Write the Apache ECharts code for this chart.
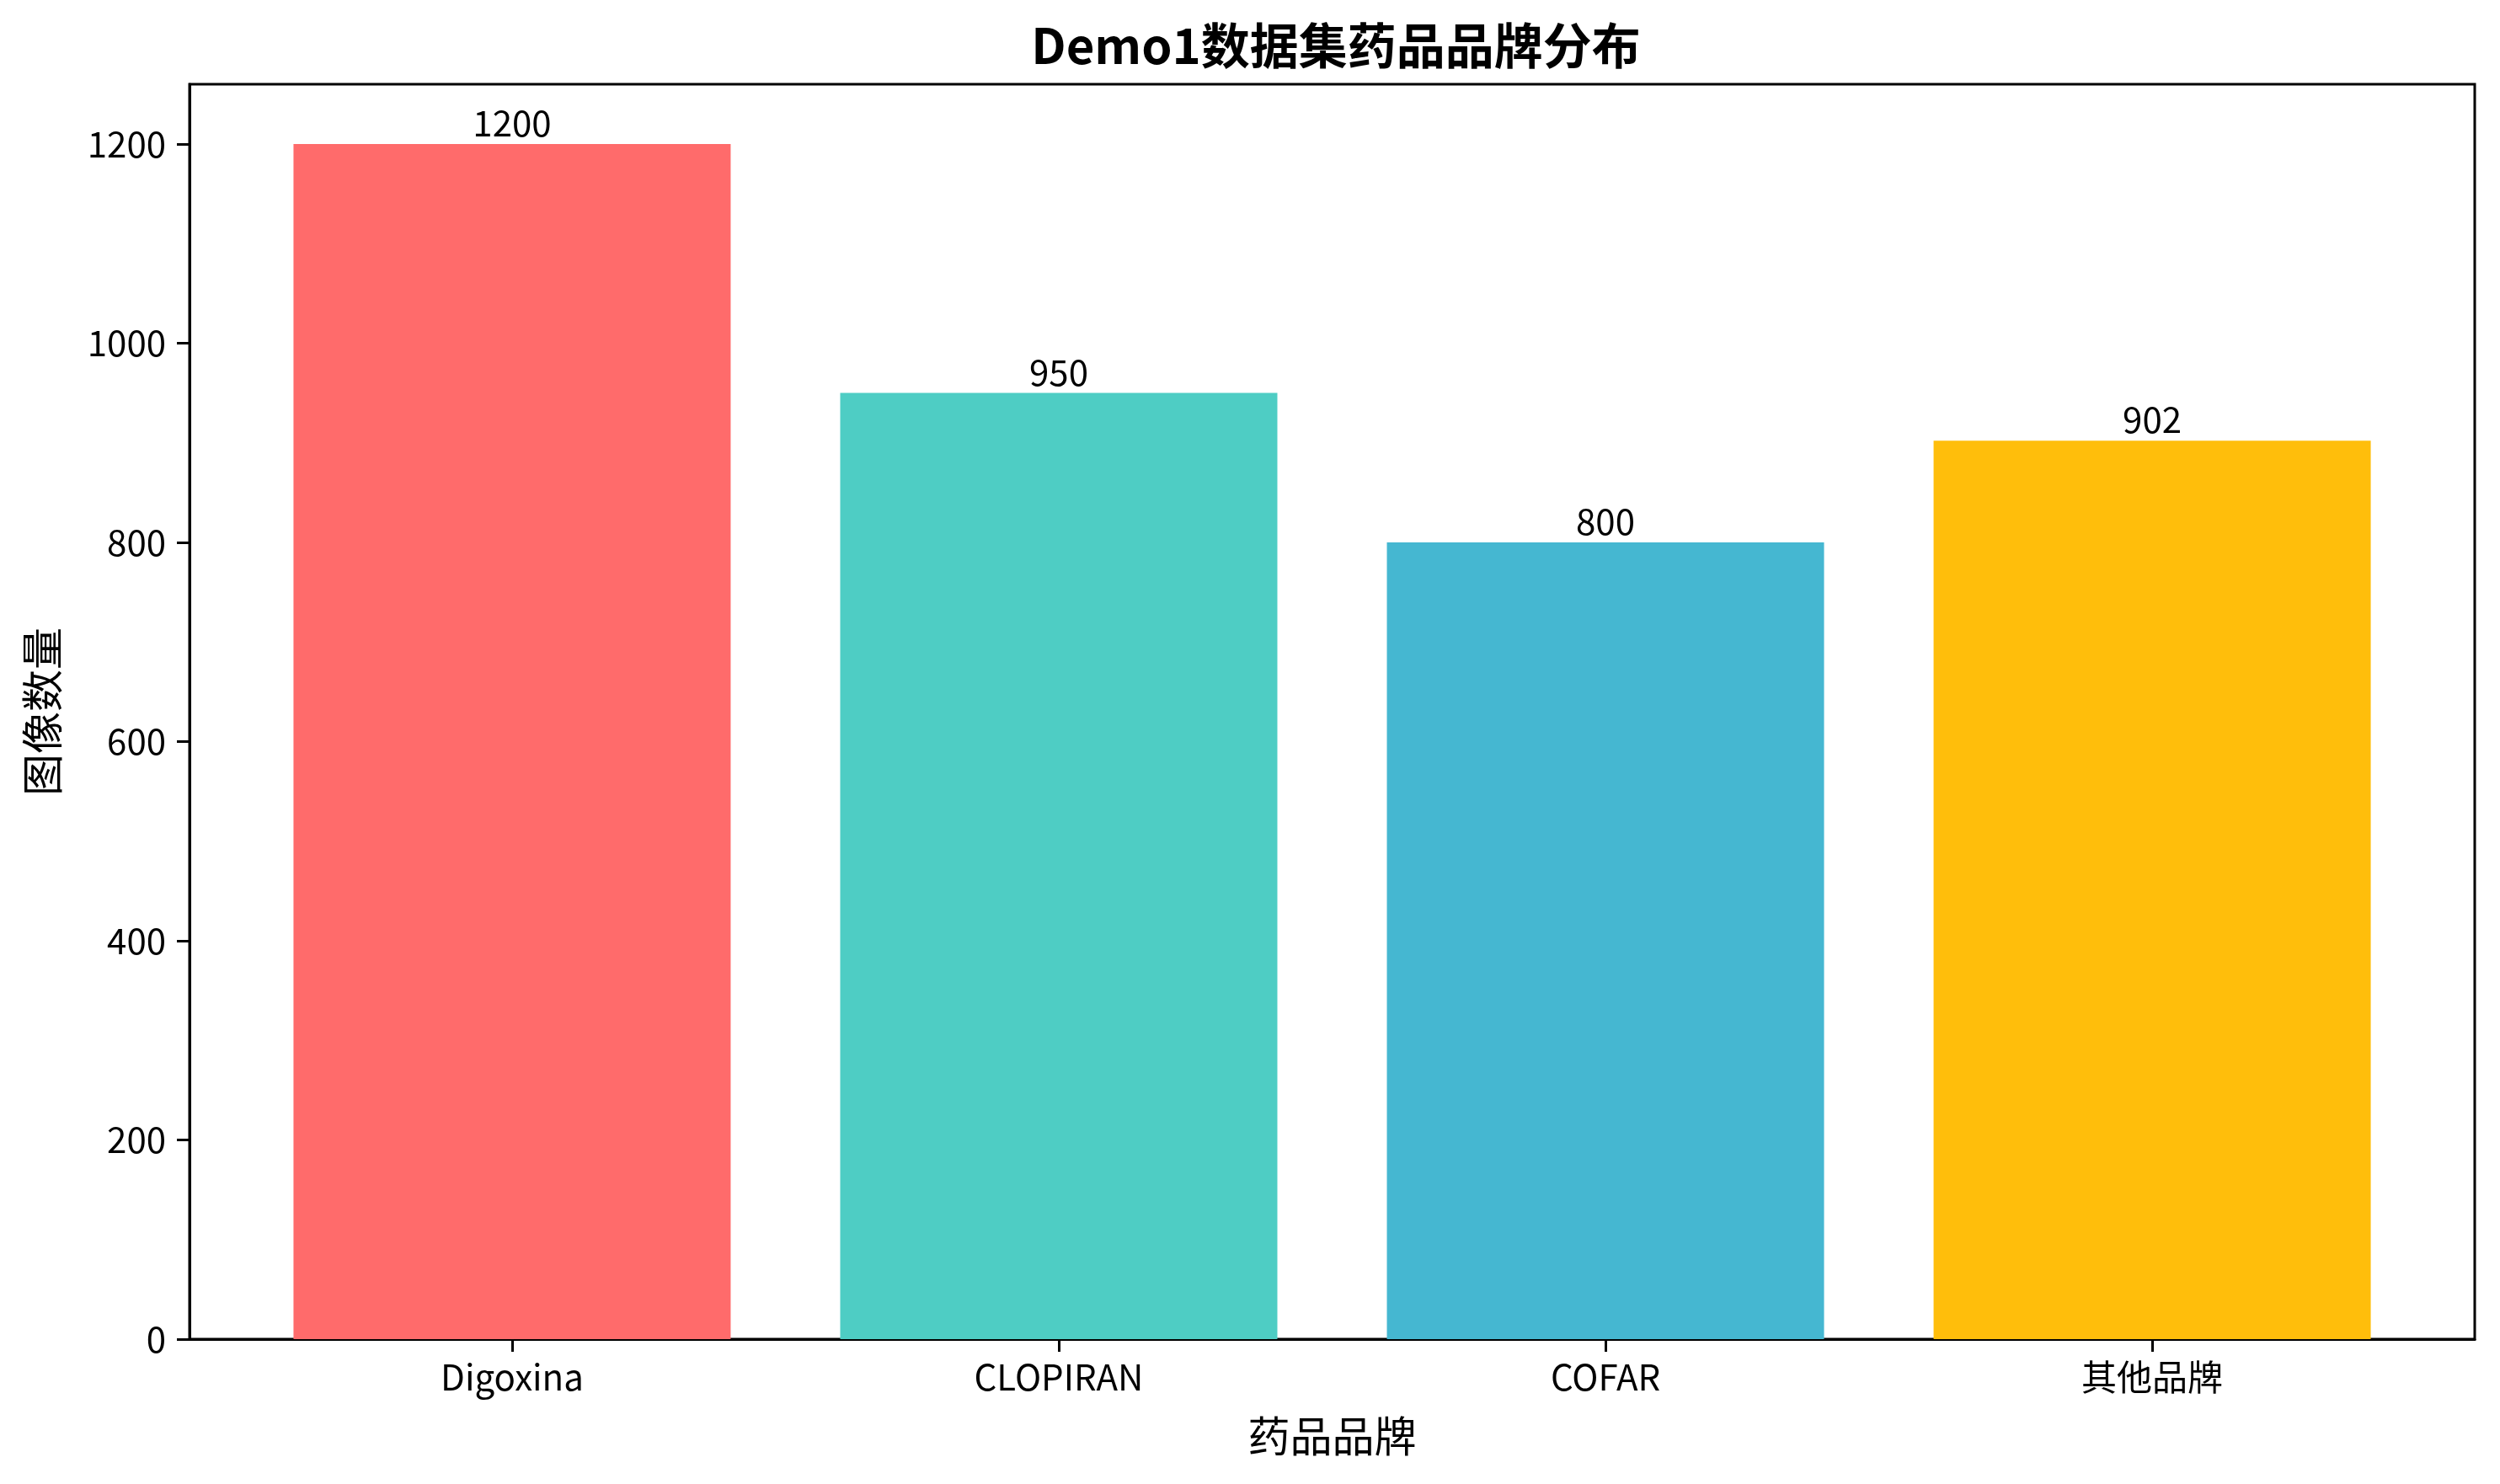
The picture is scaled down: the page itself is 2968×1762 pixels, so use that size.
<!DOCTYPE html>
<html>
<head>
<meta charset="utf-8">
<script src="https://cdn.jsdelivr.net/npm/echarts@6/dist/echarts.min.js"></script>
<style>
  html, body { margin: 0; padding: 0; background: #fff; }
  #chart { width: 2968px; height: 1762px; }
</style>
</head>
<body>
<div id="chart"></div>
<script>
  // 数据
  var brands = ['Digoxina', 'CLOPIRAN', 'COFAR', '其他品牌'];
  var counts = [1200, 950, 800, 902];
  var barColors = ['#FF6B6B', '#4ECDC4', '#45B7D1', '#FFBE0B'];
  var yTicks = [0, 200, 400, 600, 800, 1000, 1200];
  var xTicks = [0, 1, 2, 3];

  var font = '"Noto Sans CJK SC", "Noto Sans", sans-serif';

  var chart = echarts.init(document.getElementById('chart'));

  var barData = counts.map(function (v, i) {
    return { value: [i, v], itemStyle: { color: barColors[i] } };
  });

  chart.setOption({
    animation: false,
    backgroundColor: '#fff',
    textStyle: { fontFamily: font },
    title: {
      text: 'Demo1数据集药品品牌分布',
      left: 1581,
      top: 20,
      textAlign: 'center',
      textStyle: { fontSize: 58, fontWeight: 'bold', color: '#000', fontFamily: font }
    },
    grid: {
      left: 225,
      top: 100,
      width: 2713,
      height: 1490,
      show: true,
      borderColor: '#000',
      borderWidth: 3,
      containLabel: false
    },
    xAxis: {
      type: 'value',
      min: -0.59,
      max: 3.59,
      splitLine: { show: false },
      axisLine: { show: true, onZero: false, lineStyle: { color: '#000', width: 3 } },
      axisTick: {
        show: true,
        customValues: xTicks,
        length: 15,
        lineStyle: { color: '#000', width: 3 }
      },
      axisLabel: {
        customValues: xTicks,
        formatter: function (v) { return brands[Math.round(v)]; },
        margin: 24,
        fontSize: 42,
        color: '#000',
        fontFamily: font
      },
      name: '药品品牌',
      nameLocation: 'middle',
      nameGap: 90,
      nameTextStyle: { fontSize: 50, color: '#000', fontFamily: font }
    },
    yAxis: {
      type: 'value',
      min: 0,
      max: 1260,
      splitLine: { show: false },
      axisLine: { show: true, onZero: false, lineStyle: { color: '#000', width: 3 } },
      axisTick: {
        show: true,
        customValues: yTicks,
        length: 15,
        lineStyle: { color: '#000', width: 3 }
      },
      axisLabel: {
        customValues: yTicks,
        formatter: function (v) { return String(v); },
        margin: 28,
        fontSize: 42,
        color: '#000',
        fontFamily: font
      },
      name: '图像数量',
      nameLocation: 'middle',
      nameRotate: 90,
      nameGap: 150,
      nameTextStyle: { fontSize: 50, color: '#000', fontFamily: font }
    },
    series: [{
      type: 'bar',
      data: barData,
      barWidth: 519,
      label: {
        show: true,
        position: 'top',
        distance: 4,
        fontSize: 42,
        color: '#000',
        fontFamily: font,
        formatter: function (p) { return p.value[1]; }
      }
    }]
  });
</script>
</body>
</html>
